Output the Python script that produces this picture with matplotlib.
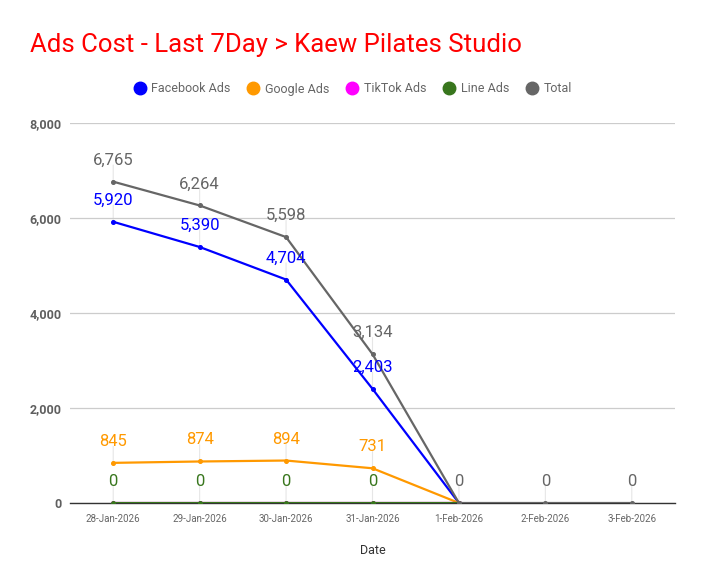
import matplotlib.pyplot as plt
import numpy as np

plt.rcParams["font.family"] = ["Roboto", "DejaVu Sans"]

dates = ["28-Jan-2026", "29-Jan-2026", "30-Jan-2026", "31-Jan-2026",
         "1-Feb-2026", "2-Feb-2026", "3-Feb-2026"]
facebook = [5920, 5390, 4704, 2403, 0, None, None]
google = [845, 874, 894, 731, 0, None, None]
tiktok = [0, 0, 0, 0, 0, None, None]
line_ads = [0, 0, 0, 0, 0, None, None]
total = [6765, 6264, 5598, 3134, 0, 0, 0]

series = [
    ("Facebook Ads", facebook, "#0000ff", True),
    ("Google Ads", google, "#ff9900", True),
    ("TikTok Ads", tiktok, "#ff00ff", False),
    ("Line Ads", line_ads, "#38761d", True),
    ("Total", total, "#666666", True),
]

fig = plt.figure(figsize=(7.04, 5.85), dpi=100)
ax = fig.add_axes([70 / 704, 82 / 585, 605 / 704, 380 / 585])

x = np.arange(len(dates))
for name, vals, color, show_labels in series:
    y = np.array([np.nan if v is None else v for v in vals], dtype=float)
    ax.plot(x, y, color=color, lw=1.6, marker="o", ms=2.6, label=name,
            solid_joinstyle="round", zorder=3)
    if not show_labels:
        continue
    for xi, yi in zip(x, y):
        if np.isnan(yi):
            continue
        # the Total label sits on top where the values coincide
        if name != "Total" and yi == total[xi]:
            continue
        ax.annotate("", xy=(xi, yi), xytext=(0, 12), textcoords="offset points",
                    xycoords="data",
                    arrowprops=dict(arrowstyle="-", color="#e6e6e6", lw=0.8,
                                    shrinkA=0, shrinkB=0), zorder=1)
        ax.annotate(f"{int(yi):,}", xy=(xi, yi), xytext=(0, 15.5),
                    textcoords="offset points", ha="center", va="center",
                    color=color, fontsize=12, zorder=4)

ax.set_xlim(-0.5, 6.5)
ax.set_ylim(0, 8000)
ax.set_yticks([0, 2000, 4000, 6000, 8000])
ax.set_yticklabels([f"{v:,}" for v in [0, 2000, 4000, 6000, 8000]],
                   fontsize=9, fontweight="bold", color="#5f5f5f")
ax.set_xticks(x)
ax.set_xticklabels(dates, fontsize=7, color="#666666")
ax.tick_params(axis="both", length=0, pad=6)
ax.tick_params(axis="x", pad=8)
ax.grid(axis="y", color="#cccccc", lw=0.9, zorder=0)
for side in ["top", "right", "left"]:
    ax.spines[side].set_visible(False)
ax.spines["bottom"].set_color("#333333")
ax.spines["bottom"].set_linewidth(1.0)
ax.spines["bottom"].set_zorder(2)

ax.set_xlabel("Date", fontsize=9, color="#333333", labelpad=14)

handles = [plt.Line2D([], [], marker="o", ls="", color=c, ms=9)
           for _, _, c, _ in series]
fig.legend(handles, [s[0] for s in series], loc="center",
           bbox_to_anchor=(352 / 704, 1 - 89 / 585), ncol=5, frameon=False,
           fontsize=9, labelcolor="#666666", handletextpad=0.35,
           columnspacing=1.2, handlelength=1.2)

fig.text(30 / 704, 1 - 45 / 585, "Ads Cost - Last 7Day > Kaew Pilates Studio",
         fontsize=18.5, color="#ff0000", va="center", ha="left")

fig.savefig("out.png", dpi=100, facecolor="white")
